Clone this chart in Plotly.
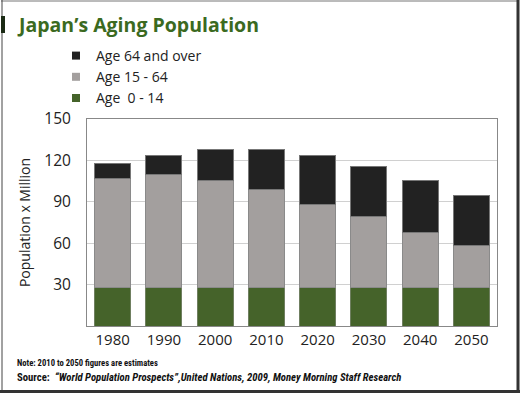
import plotly.graph_objects as go

years = ["1980", "1990", "2000", "2010", "2020", "2030", "2040", "2050"]
age_0_14 = [28, 28, 28, 28, 28, 28, 28, 28]
age_15_64 = [79, 82, 77.6, 71, 60, 51.2, 39.5, 30]
age_64_over = [11, 13.8, 22.4, 29, 35.6, 36.6, 37.9, 36.9]
y_ticks = [30, 60, 90, 120, 150]

W, H = 520, 393
font = "Open Sans"
colors = {"Age  0 - 14": "#45632a", "Age 15 - 64": "#a39f9e", "Age 64 and over": "#222222"}
edges = {"Age  0 - 14": "#6f7f60", "Age 15 - 64": "#8a8a8a", "Age 64 and over": "#777777"}

fig = go.Figure()
for name, vals in [("Age  0 - 14", age_0_14), ("Age 15 - 64", age_15_64),
                   ("Age 64 and over", age_64_over)]:
    fig.add_bar(x=years, y=vals, name=name, showlegend=False, legendgroup=name,
                marker=dict(color=colors[name], line=dict(color=edges[name], width=1)))
for name in ["Age  0 - 14", "Age 15 - 64", "Age 64 and over"]:
    fig.add_scatter(x=[None], y=[None], mode="markers", name=name, legendgroup=name,
                    marker=dict(symbol="square", size=8, color=colors[name]))

px = lambda v: v / W
py = lambda v: 1 - v / H

shapes = [
    dict(type="line", xref="paper", yref="paper", x0=px(1), x1=px(518), y0=py(1), y1=py(1),
         line=dict(color="#777777", width=1)),
    dict(type="line", xref="paper", yref="paper", x0=px(2), x1=px(2), y0=py(0), y1=py(391),
         line=dict(color="#444444", width=1)),
    dict(type="line", xref="paper", yref="paper", x0=px(518), x1=px(518), y0=py(0), y1=py(393),
         line=dict(color="#333333", width=3)),
    dict(type="line", xref="paper", yref="paper", x0=px(0), x1=px(520), y0=py(391.5), y1=py(391.5),
         line=dict(color="#333333", width=3)),
    dict(type="rect", xref="paper", yref="paper", x0=px(1), x1=px(5), y0=py(16), y1=py(33),
         fillcolor="#1a2a14", line=dict(width=0)),
]

note_font = "Liberation Sans Narrow, Roboto Condensed, Liberation Sans"

fig.update_layout(
    width=W, height=H, autosize=False,
    margin=dict(l=0, r=0, t=0, b=0, autoexpand=False),
    paper_bgcolor="white", plot_bgcolor="white",
    barmode="stack", bargap=0.3,
    font=dict(family=font, color="#222222"),
    showlegend=True,
    legend=dict(x=px(56), y=py(40), xanchor="left", yanchor="top",
                traceorder="reversed", font=dict(size=14, color="#222222"),
                itemwidth=30, tracegroupgap=0,
                bgcolor="rgba(0,0,0,0)", itemclick=False, itemdoubleclick=False),
    xaxis=dict(domain=[px(87), px(497)], showgrid=False, ticks="",
               tickfont=dict(size=15, color="#222222"),
               showline=True, linecolor="#888888", linewidth=1, mirror=True),
    yaxis=dict(domain=[py(326), py(119)], range=[0, 150], tickvals=y_ticks,
               showgrid=True, gridcolor="#d0d0d0", gridwidth=1,
               tickfont=dict(size=15.5, color="#222222"), ticks="",
               ticklabelstandoff=12,
               showline=True, linecolor="#888888", linewidth=1, mirror=True,
               zeroline=False,
               title=dict(text="Population x Million", font=dict(size=14, color="#222222"),
                          standoff=10)),
    shapes=shapes,
    annotations=[
        dict(text="<b>Japan’s Aging Population</b>", xref="paper", yref="paper",
             x=px(15), y=py(25), xanchor="left", yanchor="middle", showarrow=False,
             font=dict(size=19.5, color="#3b6a1f", family=font)),
        dict(text="<b>Note: 2010 to 2050 figures are estimates</b>", xref="paper", yref="paper",
             x=px(15), y=py(363), xanchor="left", yanchor="middle", showarrow=False,
             font=dict(size=8.6, color="#111111", family=note_font)),
        dict(text="<b>Source:  <i>“World Population Prospects”,United Nations, 2009, Money Morning Staff Research</i></b>",
             xref="paper", yref="paper",
             x=px(15), y=py(377), xanchor="left", yanchor="middle", showarrow=False,
             font=dict(size=10.7, color="#111111", family=note_font)),
    ],
)

fig.write_html("out.html", config={"displayModeBar": False},
               post_script="document.body.style.margin='0';")
